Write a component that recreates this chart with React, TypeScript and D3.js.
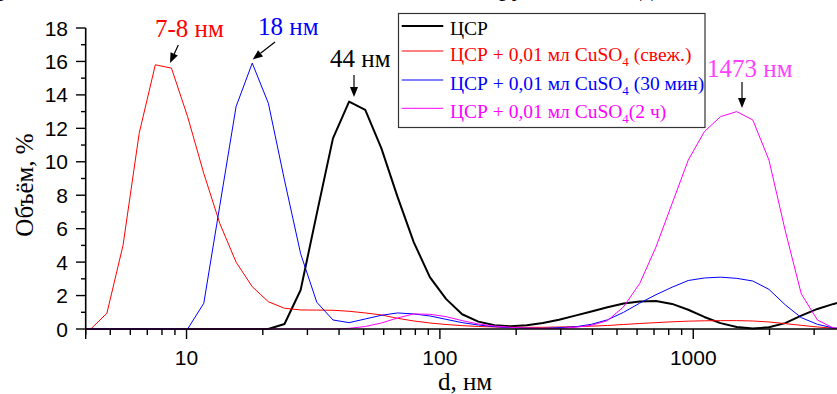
import React from "react";
import * as d3 from "d3";

// Zetasizer size bins (nm)
const sizes = [3.615, 4.187, 4.849, 5.615, 6.503, 7.531, 8.721, 10.1, 11.7, 13.54, 15.69, 18.17, 21.04, 24.36, 28.21, 32.67, 37.84, 43.82, 50.75, 58.77, 68.06, 78.82, 91.28, 105.7, 122.4, 141.8, 164.2, 190.1, 220.2, 255.0, 295.3, 342.0, 396.1, 458.7, 531.2, 615.1, 712.4, 825.0, 955.4, 1106, 1281, 1484, 1718, 1990, 2305, 2669, 3091, 3580, 4145];

const csr = [0, 0, 0, 0, 0, 0, 0, 0, 0, 0, 0, 0, 0, 0.3, 2.33, 6.9, 11.4, 13.6, 13.1, 10.8, 7.9, 5.2, 3.1, 1.8, 0.88, 0.44, 0.22, 0.16, 0.22, 0.36, 0.55, 0.8, 1.05, 1.3, 1.52, 1.65, 1.68, 1.5, 1.15, 0.72, 0.35, 0.12, 0.03, 0.1, 0.35, 0.8, 1.2, 1.5, 1.75];
const csrFresh = [0, 0, 0.94, 5.0, 11.7, 15.8, 15.6, 12.7, 9.3, 6.3, 4.0, 2.53, 1.63, 1.24, 1.14, 1.13, 1.12, 1.06, 0.96, 0.84, 0.64, 0.48, 0.36, 0.27, 0.2, 0.15, 0.12, 0.1, 0.1, 0.1, 0.12, 0.14, 0.17, 0.21, 0.27, 0.33, 0.38, 0.43, 0.47, 0.49, 0.5, 0.5, 0.48, 0.42, 0.32, 0.22, 0.12, 0.05, 0.01];
const csr30 = [0, 0, 0, 0, 0, 0, 0, 0, 1.54, 7.4, 13.3, 15.9, 13.5, 8.9, 4.5, 1.6, 0.54, 0.38, 0.6, 0.82, 0.96, 0.9, 0.78, 0.58, 0.38, 0.24, 0.14, 0.08, 0.05, 0.04, 0.08, 0.13, 0.28, 0.55, 1.0, 1.55, 2.05, 2.5, 2.9, 3.05, 3.1, 3.03, 2.87, 2.37, 1.45, 0.68, 0.28, 0.06, 0];
const csr2h = [0, 0, 0, 0, 0, 0, 0, 0, 0, 0, 0, 0, 0, 0, 0, 0, 0, 0.04, 0.15, 0.36, 0.66, 0.9, 0.88, 0.74, 0.5, 0.3, 0.18, 0.1, 0.05, 0.03, 0.03, 0.1, 0.22, 0.5, 1.33, 2.73, 4.9, 7.5, 10.1, 11.8, 12.7, 13.0, 12.5, 10.1, 5.9, 2.1, 0.54, 0.05, 0];

const seriesNames = ["ЦСР", "ЦСР + 0,01 мл CuSO", "ЦСР + 0,01 мл CuSO", "ЦСР + 0,01 мл CuSO"];
const seriesSuffix = ["", " (свеж.)", " (30 мин)", "(2 ч)"];
const seriesColors = ["#000000", "#ff0000", "#0000ff", "#ff00ff"];
const seriesWidths = [2, 1, 1, 1];
const seriesValues = [csr, csrFresh, csr30, csr2h];

const xMajor = [10, 100, 1000];
const xMinor = [4, 5, 6, 7, 8, 9, 20, 30, 40, 50, 60, 70, 80, 90, 200, 300, 400, 500, 600, 700, 800, 900, 2000, 3000];
const yMajor = [0, 2, 4, 6, 8, 10, 12, 14, 16, 18];
const yMinor = [1, 3, 5, 7, 9, 11, 13, 15, 17];

const peakLabels = ["7-8 нм", "18 нм", "44 нм", "1473 нм"];
const peakColors = ["#ff0000", "#0000ff", "#000000", "#ff40ff"];

export default function App() {
  const x = d3.scaleLog().domain([4, 4000]).range([85.7, 845.8]);
  const y = d3.scaleLinear().domain([0, 18]).range([329, 28]);
  const line = d3.line<number>().x((_, i) => x(sizes[i])).y((v) => y(v));
  const sans = "'Liberation Sans', Arial, sans-serif";
  const serif = "'Liberation Serif', 'Times New Roman', serif";

  const legendY = [26, 51, 80, 108.3];

  const ann = [
    { tx: 155, ty: 37, ax1: 178.3, ay1: 45, ax2: 170, ay2: 63 },
    { tx: 258, ty: 35, ax1: 275, ay1: 42, ax2: 252.7, ay2: 59.5 },
    { tx: 330, ty: 67, ax1: 354, ay1: 75, ax2: 354, ay2: 97 },
    { tx: 707, ty: 77, ax1: 742, ay1: 82, ax2: 742, ay2: 108 },
  ];

  const arrow = (x1: number, y1: number, x2: number, y2: number, key: string) => {
    const dx = x2 - x1, dy = y2 - y1;
    const L = Math.hypot(dx, dy);
    const ux = dx / L, uy = dy / L;
    const hl = 10, hw = 4;
    const bx = x2 - ux * hl, by = y2 - uy * hl;
    const pts = `${x2},${y2} ${bx - uy * hw},${by + ux * hw} ${bx + uy * hw},${by - ux * hw}`;
    return (
      <g key={key}>
        <line x1={x1} y1={y1} x2={bx} y2={by} stroke="#000" strokeWidth={1.2} />
        <polygon points={pts} fill="#000" />
      </g>
    );
  };

  return (
    <svg width={837} height={394} style={{ position: "absolute", left: 0, top: 0, background: "#fff" }}>
      <defs>
        <clipPath id="plot">
          <rect x={86} y={0} width={800} height={340} />
        </clipPath>
      </defs>
      {/* cropped title fragments (title line lies above the picture) */}
      <g fontFamily={serif} fontSize={26} fill="#000">
        <text x={-3} y={-4}>р</text>
        <text x={499} y={-4}>ру</text>
        <text x={640} y={-4}>д</text>
      </g>

      <g clipPath="url(#plot)">
        {seriesValues.map((vals, i) => (
          <path key={i} d={line(vals) || ""} fill="none" stroke={seriesColors[i]} strokeWidth={seriesWidths[i]} strokeLinejoin="round" />
        ))}
      </g>

      <line x1={85.7} y1={28} x2={85.7} y2={329.8} stroke="#000" strokeWidth={1.6} />
      <line x1={85} y1={329} x2={837} y2={329} stroke="#000" strokeWidth={1.6} />
      {yMajor.map((v) => (
        <g key={"ym" + v}>
          <line x1={76} x2={85.7} y1={y(v)} y2={y(v)} stroke="#000" strokeWidth={1.4} />
          <text x={68} y={y(v) + 7.5} textAnchor="end" fontFamily={sans} fontSize={21}>{v}</text>
        </g>
      ))}
      {yMinor.map((v) => (
        <line key={"yn" + v} x1={81} x2={85.7} y1={y(v)} y2={y(v)} stroke="#000" strokeWidth={1.4} />
      ))}
      {xMajor.map((v) => (
        <g key={"xm" + v}>
          <line x1={x(v)} x2={x(v)} y1={329} y2={339} stroke="#000" strokeWidth={1.4} />
          <text x={x(v)} y={365} textAnchor="middle" fontFamily={sans} fontSize={21}>{v}</text>
        </g>
      ))}
      {xMinor.map((v) => (
        <line key={"xn" + v} x1={x(v)} x2={x(v)} y1={329} y2={335} stroke="#000" strokeWidth={1.4} />
      ))}
      <line x1={85.7} x2={85.7} y1={329} y2={339} stroke="#000" strokeWidth={1.4} />

      <text x={465} y={390} textAnchor="middle" fontFamily={serif} fontSize={25}>d, нм</text>
      <text transform="translate(33,185) rotate(-90)" textAnchor="middle" fontFamily={serif} fontSize={25}>Объём, %</text>

      <rect x={398.5} y={13.5} width={306.5} height={114} fill="#fff" stroke="#333" strokeWidth={1.2} />
      {seriesNames.map((name, i) => (
        <g key={"lg" + i}>
          <line x1={401.7} x2={443.3} y1={legendY[i]} y2={legendY[i]} stroke={seriesColors[i]} strokeWidth={seriesWidths[i]} />
          <text x={450} y={legendY[i] + (i === 0 ? 9 : 10)} fontFamily={serif} fontSize={19.5} fill={seriesColors[i]}>
            {name}
            {i > 0 && <tspan dy={5} fontSize={13}>4</tspan>}
            {i > 0 && <tspan dy={-5}>{seriesSuffix[i]}</tspan>}
          </text>
        </g>
      ))}

      {ann.map((a, i) => (
        <g key={"an" + i}>
          <text x={a.tx} y={a.ty} fontFamily={serif} fontSize={25} fill={peakColors[i]}>{peakLabels[i]}</text>
          {arrow(a.ax1, a.ay1, a.ax2, a.ay2, "ar" + i)}
        </g>
      ))}
    </svg>
  );
}
